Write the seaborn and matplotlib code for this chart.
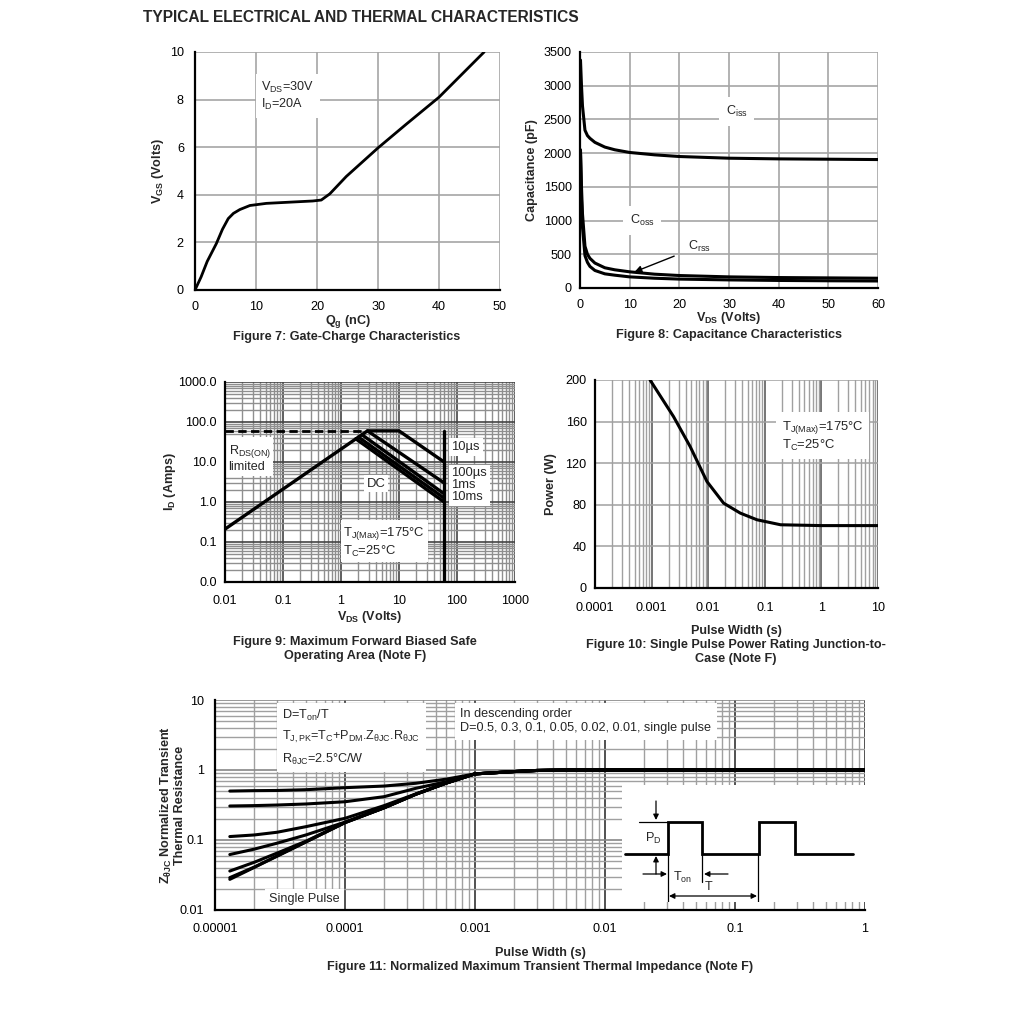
import numpy as np
import pandas as pd
import matplotlib
matplotlib.use("Agg")
import matplotlib.pyplot as plt
import matplotlib.ticker as mticker
import seaborn as sns

# ---------------- data ----------------
# Figure 7: gate charge
qg = [0, 1, 2, 3.5, 4.5, 5.45, 6.3, 7.35, 9.0, 11.7, 15.5, 19.3, 20.7, 22.1, 24.8, 30.0, 34.6, 40.0, 47.4]
vgs = [0, 0.55, 1.2, 1.95, 2.55, 3.0, 3.22, 3.38, 3.55, 3.64, 3.69, 3.74, 3.78, 4.04, 4.77, 5.97, 6.96, 8.1, 10.0]

# Figure 8: capacitance
vds_c = [0.1, 0.3, 0.5, 1, 1.5, 2, 3, 5, 7, 10, 15, 20, 30, 40, 50, 60]
ciss = [3380, 3000, 2700, 2340, 2260, 2220, 2160, 2090, 2050, 2010, 1975, 1950, 1925, 1915, 1910, 1905]
coss = [2050, 1500, 1100, 620, 500, 440, 370, 300, 270, 240, 205, 185, 165, 155, 150, 145]
crss = [2000, 1300, 900, 480, 380, 320, 260, 210, 190, 165, 145, 132, 120, 112, 107, 104]

# Figure 9: safe operating area
soa_rds_v = [0.01, 2.86]
soa_rds_i = [0.21, 60]
soa_10us_v = [0.01, 2.86, 10, 60]
soa_10us_i = [0.21, 60, 60, 10]
soa_100us_v = [2.86, 60]
soa_100us_i = [60, 3.0]
soa_1ms_v = [2.3, 60]
soa_1ms_i = [48, 1.6]
soa_10ms_v = [2.0, 60]
soa_10ms_i = [42, 1.25]
soa_dc_v = [1.8, 60]
soa_dc_i = [38, 1.0]
soa_vmax_v = [60, 60]
soa_vmax_i = [60, 0.01]

# Figure 10: single pulse power
tp = [0.00094, 0.00244, 0.0048, 0.0095, 0.0187, 0.0369, 0.0728, 0.19, 1, 10]
pw = [200, 164.8, 136, 102.4, 81.6, 72, 65.6, 60.8, 60, 60]

# Figure 11: transient thermal impedance
tz = [1.3e-5, 2e-5, 3e-5, 5e-5, 1e-4, 2e-4, 3.5e-4, 6e-4, 1e-3, 2e-3, 3e-3, 5e-3, 1e-2, 1e-1, 1]
z_d05 = [0.50, 0.507, 0.51, 0.523, 0.559, 0.59, 0.646, 0.74, 0.88, 0.95, 0.985, 1.0, 1.0, 1.0, 1.0]
z_d03 = [0.306, 0.31, 0.316, 0.327, 0.352, 0.416, 0.547, 0.68, 0.88, 0.95, 0.985, 1.0, 1.0, 1.0, 1.0]
z_d01 = [0.112, 0.118, 0.129, 0.155, 0.204, 0.31, 0.455, 0.65, 0.88, 0.95, 0.985, 1.0, 1.0, 1.0, 1.0]
z_d005 = [0.062, 0.074, 0.09, 0.118, 0.18, 0.29, 0.45, 0.65, 0.88, 0.95, 0.985, 1.0, 1.0, 1.0, 1.0]
z_d002 = [0.036, 0.048, 0.065, 0.096, 0.178, 0.289, 0.45, 0.65, 0.88, 0.95, 0.985, 1.0, 1.0, 1.0, 1.0]
z_d001 = [0.029, 0.041, 0.059, 0.094, 0.177, 0.288, 0.45, 0.65, 0.88, 0.95, 0.985, 1.0, 1.0, 1.0, 1.0]
z_sp = [0.0274, 0.0405, 0.0587, 0.0936, 0.177, 0.288, 0.45, 0.65, 0.88, 0.95, 0.985, 1.0, 1.0, 1.0, 1.0]

fig9_xticks = [0.01, 0.1, 1, 10, 100, 1000]
fig9_xlabels = ["0.01", "0.1", "1", "10", "100", "1000"]
fig9_yticks = [0.01, 0.1, 1, 10, 100, 1000]
fig9_ylabels = ["0.0", "0.1", "1.0", "10.0", "100.0", "1000.0"]
fig10_xticks = [1e-4, 1e-3, 1e-2, 1e-1, 1, 10]
fig10_xlabels = ["0.0001", "0.001", "0.01", "0.1", "1", "10"]
fig11_xticks = [1e-5, 1e-4, 1e-3, 1e-2, 1e-1, 1]
fig11_xlabels = ["0.00001", "0.0001", "0.001", "0.01", "0.1", "1"]
fig11_yticks = [0.01, 0.1, 1, 10]
fig11_ylabels = ["0.01", "0.1", "1", "10"]

# pulse schematic (inset drawing, in inset units)
pulse_x = [625, 668, 668, 702, 702, 759, 759, 795, 795, 853]
pulse_y = [854, 854, 822, 822, 854, 854, 822, 822, 854, 854]

# ---------------- style ----------------
sns.set_theme(style="white")
plt.rcParams["font.family"] = ["Liberation Sans", "DejaVu Sans"]
plt.rcParams["mathtext.fontset"] = "custom"
plt.rcParams["mathtext.rm"] = "Liberation Sans"
plt.rcParams["mathtext.it"] = "Liberation Sans"
plt.rcParams["mathtext.bf"] = "Liberation Sans:bold"
plt.rcParams["mathtext.default"] = "regular"

FS = 9.1
W, H = 1020, 1025
fig = plt.figure(figsize=(W / 100, H / 100), dpi=100)
fig.patch.set_facecolor("white")


def axes_px(x0, y0, x1, y1):
    return fig.add_axes([x0 / W, 1 - y1 / H, (x1 - x0) / W, (y1 - y0) / H])


def ftxt(x, y, s, **kw):
    fig.text(x / W, 1 - y / H, s, **kw)


def base(ax, xpad=7, ypad=6):
    for side in ["top", "right"]:
        ax.spines[side].set_visible(False)
    for side in ["left", "bottom"]:
        ax.spines[side].set_color("black")
        ax.spines[side].set_linewidth(1.6)
        ax.spines[side].set_zorder(5)
    ax.tick_params(which="both", length=0, labelsize=FS, colors="black")
    ax.tick_params(axis="x", pad=xpad)
    ax.tick_params(axis="y", pad=ypad)
    ax.set_facecolor("white")


def line(ax, x, y, lw=2.2, **kw):
    df = pd.DataFrame({"x": x, "y": y})
    sns.lineplot(data=df, x="x", y="y", ax=ax, color="black", linewidth=lw,
                 estimator=None, sort=False, legend=False, **kw)


box = dict(facecolor="white", edgecolor="none", pad=2)

# ---------------- Figure 7 ----------------
ax7 = axes_px(195, 52, 500, 290)
base(ax7, xpad=8, ypad=8)
line(ax7, qg, vgs, lw=2.0)
ax7.set_xlim(0, 50)
ax7.set_ylim(0, 10)
ax7.set_xticks(range(0, 51, 10))
ax7.set_yticks(range(0, 11, 2))
ax7.grid(True, color="#a6a6a6", linewidth=1.2)
ax7.set_axisbelow(True)
ax7.set_xlabel("Q$_{g}$ (nC)", fontsize=FS, fontweight="bold", labelpad=0)
ax7.set_ylabel("V$_{GS}$ (Volts)", fontsize=FS, fontweight="bold", labelpad=3)
ax7.text(10.9, 8.15, "V$_{DS}$=30V\nI$_{D}$=20A", fontsize=FS, va="center", ha="left",
         linespacing=1.2, bbox=dict(facecolor="white", edgecolor="none", pad=4))

# ---------------- Figure 8 ----------------
ax8 = axes_px(580, 52, 878, 288)
base(ax8, xpad=8, ypad=6)
line(ax8, vds_c, ciss, lw=2.2)
line(ax8, vds_c, coss, lw=2.2)
line(ax8, vds_c, crss, lw=2.2)
ax8.set_xlim(0, 60)
ax8.set_ylim(0, 3500)
ax8.set_xticks(range(0, 61, 10))
ax8.set_yticks(range(0, 3501, 500))
ax8.grid(True, color="#a6a6a6", linewidth=1.2)
ax8.set_axisbelow(True)
ax8.set_xlabel("V$_{DS}$ (Volts)", fontsize=FS, fontweight="bold", labelpad=-1)
ax8.set_ylabel("Capacitance (pF)", fontsize=FS, fontweight="bold", labelpad=4)
ax8.text(31.5, 2620, "C$_{iss}$", fontsize=FS, ha="center", va="center",
         bbox=dict(facecolor="white", edgecolor="none", pad=5))
ax8.text(12.5, 1000, "C$_{oss}$", fontsize=FS, ha="center", va="center",
         bbox=dict(facecolor="white", edgecolor="none", pad=5))
ax8.annotate("C$_{rss}$", xy=(11, 240), xytext=(24, 620), fontsize=FS, ha="center", va="center",
             arrowprops=dict(arrowstyle="-|>", color="black", lw=1.0, shrinkA=8, shrinkB=0,
                             mutation_scale=10))

# ---------------- Figure 9 ----------------
ax9 = axes_px(225, 382, 515, 582)
base(ax9, xpad=9, ypad=6)
ax9.set_xscale("log")
ax9.set_yscale("log")
for vx, iy in [(soa_10us_v, soa_10us_i), (soa_100us_v, soa_100us_i), (soa_1ms_v, soa_1ms_i),
               (soa_10ms_v, soa_10ms_i), (soa_dc_v, soa_dc_i), (soa_vmax_v, soa_vmax_i)]:
    line(ax9, vx, iy, lw=2.4)
line(ax9, [soa_10us_v[0], soa_rds_v[1]], [60, 60], lw=2.0, linestyle=(0, (3, 1.6)))
ax9.set_xlim(0.01, 1000)
ax9.set_ylim(0.01, 1000)
ax9.xaxis.set_major_locator(mticker.FixedLocator(fig9_xticks))
ax9.xaxis.set_major_formatter(mticker.FixedFormatter(fig9_xlabels))
ax9.yaxis.set_major_locator(mticker.FixedLocator(fig9_yticks))
ax9.yaxis.set_major_formatter(mticker.FixedFormatter(fig9_ylabels))
ax9.xaxis.set_minor_locator(mticker.LogLocator(base=10, subs=np.arange(2, 10)))
ax9.yaxis.set_minor_locator(mticker.LogLocator(base=10, subs=np.arange(2, 10)))
ax9.xaxis.set_minor_formatter(mticker.NullFormatter())
ax9.yaxis.set_minor_formatter(mticker.NullFormatter())
ax9.grid(True, which="minor", color="#8f8f8f", linewidth=1.0)
ax9.grid(True, which="major", color="#444444", linewidth=1.2)
ax9.set_axisbelow(True)
ax9.set_xlabel("V$_{DS}$ (Volts)", fontsize=FS, fontweight="bold", labelpad=2)
ax9.set_ylabel("I$_{D}$ (Amps)", fontsize=FS, fontweight="bold", labelpad=0)
ax9.text(0.0115, 12.5, "R$_{DS(ON)}$\nlimited", fontsize=FS, ha="left", va="center", linespacing=1.1,
         bbox=box)
ax9.text(80, 24, "10µs", fontsize=FS + 0.3, ha="left", va="center", bbox=box)
ax9.text(80, 2.6, "100µs\n1ms\n10ms", fontsize=FS + 0.3, ha="left", va="center",
         linespacing=1.0, bbox=box)
ax9.text(4.0, 2.9, "DC", fontsize=FS + 0.3, ha="center", va="center", bbox=box)
ax9.text(1.1, 0.1, "T$_{J(Max)}$=175°C\nT$_{C}$=25°C", fontsize=FS + 0.3, ha="left",
         va="center", linespacing=1.15, bbox=box)

# ---------------- Figure 10 ----------------
ax10 = axes_px(595, 380, 878, 588)
base(ax10, xpad=10, ypad=6)
ax10.set_xscale("log")
line(ax10, tp, pw, lw=2.2)
ax10.set_xlim(1e-4, 10)
ax10.set_ylim(0, 200)
ax10.xaxis.set_major_locator(mticker.FixedLocator(fig10_xticks))
ax10.xaxis.set_major_formatter(mticker.FixedFormatter(fig10_xlabels))
ax10.xaxis.set_minor_locator(mticker.LogLocator(base=10, subs=np.arange(2, 10)))
ax10.xaxis.set_minor_formatter(mticker.NullFormatter())
ax10.set_yticks(range(0, 201, 40))
ax10.grid(True, which="minor", axis="x", color="#a0a0a0", linewidth=1.0)
ax10.grid(True, which="major", axis="x", color="#505050", linewidth=1.1)
ax10.grid(True, which="major", axis="y", color="#a0a0a0", linewidth=1.1)
ax10.set_axisbelow(True)
ax10.set_xlabel("Pulse Width (s)", fontsize=FS, fontweight="bold", labelpad=8)
ax10.set_ylabel("Power (W)", fontsize=FS, fontweight="bold", labelpad=6)
ax10.text(0.2, 146, "T$_{J(Max)}$=175°C\nT$_{C}$=25°C", fontsize=FS + 0.3, ha="left",
          va="center", linespacing=1.15, bbox=dict(facecolor="white", edgecolor="none", pad=4))

# ---------------- Figure 11 ----------------
ax11 = axes_px(215, 700, 865, 910)
base(ax11, xpad=9, ypad=8)
ax11.set_xscale("log")
ax11.set_yscale("log")
for zz in [z_d05, z_d03, z_d01, z_d005, z_d002, z_d001, z_sp]:
    line(ax11, tz, zz, lw=2.2)
ax11.set_xlim(1e-5, 1)
ax11.set_ylim(0.01, 10)
ax11.xaxis.set_major_locator(mticker.FixedLocator(fig11_xticks))
ax11.xaxis.set_major_formatter(mticker.FixedFormatter(fig11_xlabels))
ax11.yaxis.set_major_locator(mticker.FixedLocator(fig11_yticks))
ax11.yaxis.set_major_formatter(mticker.FixedFormatter(fig11_ylabels))
ax11.xaxis.set_minor_locator(mticker.LogLocator(base=10, subs=np.arange(2, 10)))
ax11.yaxis.set_minor_locator(mticker.LogLocator(base=10, subs=np.arange(2, 10)))
ax11.xaxis.set_minor_formatter(mticker.NullFormatter())
ax11.yaxis.set_minor_formatter(mticker.NullFormatter())
ax11.grid(True, which="minor", color="#a0a0a0", linewidth=1.0)
ax11.grid(True, which="major", axis="x", color="#222222", linewidth=1.1)
ax11.grid(True, which="major", axis="y", color="#888888", linewidth=1.2)
ax11.set_axisbelow(True)
ax11.set_xlabel("Pulse Width (s)", fontsize=FS, fontweight="bold", labelpad=9)
ax11.set_ylabel("Z$_{\\theta JC}$ Normalized Transient\nThermal Resistance", fontsize=FS,
                fontweight="bold", labelpad=-5, linespacing=1.0)
ax11.text(3.3e-5, 7.6, "D=T$_{on}$/T\nT$_{J,PK}$=T$_{C}$+P$_{DM}$.Z$_{\\theta JC}$.R$_{\\theta JC}$\nR$_{\\theta JC}$=2.5°C/W",
          fontsize=FS, ha="left", va="top", linespacing=1.55,
          bbox=dict(facecolor="white", edgecolor="none", pad=4))
ax11.text(7.7e-4, 7.6, "In descending order\nD=0.5, 0.3, 0.1, 0.05, 0.02, 0.01, single pulse",
          fontsize=FS, ha="left", va="top", linespacing=1.2,
          bbox=dict(facecolor="white", edgecolor="none", pad=4))
ax11.text(2.6e-5, 0.0145, "Single Pulse", fontsize=FS, ha="left", va="center",
          bbox=dict(facecolor="white", edgecolor="none", pad=3))

# inset pulse schematic
axi = axes_px(622, 785, 865, 902)
axi.set_xlim(622, 865)
axi.set_ylim(902, 785)
axi.set_facecolor("white")
axi.axis("off")
axi.add_patch(plt.Rectangle((622, 785), 243, 117, facecolor="white", edgecolor="none", zorder=0))
axi.plot(pulse_x, pulse_y, color="black", lw=2.0, solid_joinstyle="miter")
thin = dict(color="black", lw=0.9)
axi.plot([639, 668], [822, 822], **thin)
axi.plot([668, 668], [854, 904], **thin)
axi.plot([702, 702], [854, 882], **thin)
axi.plot([758, 758], [854, 904], **thin)
ar = dict(arrowstyle="-|>", color="black", lw=0.9, mutation_scale=8, shrinkA=0, shrinkB=0)
axi.annotate("", xy=(656, 820), xytext=(656, 801), arrowprops=ar)
axi.annotate("", xy=(656, 856), xytext=(656, 874), arrowprops=ar)
axi.annotate("", xy=(667, 874), xytext=(643, 874), arrowprops=ar)
axi.annotate("", xy=(704, 874), xytext=(728, 874), arrowprops=ar)
axi.annotate("", xy=(757, 896), xytext=(669, 896),
             arrowprops=dict(arrowstyle="<|-|>", color="black", lw=0.9, mutation_scale=8,
                             shrinkA=0, shrinkB=0))
axi.text(653, 838, "P$_{D}$", fontsize=FS, ha="center", va="center")
axi.text(683, 877, "T$_{on}$", fontsize=FS, ha="center", va="center")
axi.text(709, 887, "T", fontsize=FS, ha="center", va="center")

# ---------------- texts ----------------
axt = axes_px(138, 4, 579, 30)
axt.axis("off")
axt.set_xlim(0, 1)
axt.set_ylim(0, 1)
axt.text(5 / 441, 0.5, "TYPICAL ELECTRICAL AND THERMAL CHARACTERISTICS", fontsize=11.2,
         fontweight="bold", ha="left", va="center", clip_on=True)
ftxt(347, 337, "Figure 7: Gate-Charge Characteristics", fontsize=FS, fontweight="bold",
     ha="center", va="center")
ftxt(729, 335, "Figure 8: Capacitance Characteristics", fontsize=FS, fontweight="bold",
     ha="center", va="center")
ftxt(355, 649, "Figure 9: Maximum Forward Biased Safe\nOperating Area (Note F)", fontsize=FS,
     fontweight="bold", ha="center", va="center", linespacing=1.2)
ftxt(736, 652, "Figure 10: Single Pulse Power Rating Junction-to-\nCase (Note F)", fontsize=FS,
     fontweight="bold", ha="center", va="center", linespacing=1.2)
ftxt(540, 967, "Figure 11: Normalized Maximum Transient Thermal Impedance (Note F)",
     fontsize=FS, fontweight="bold", ha="center", va="center")

fig.savefig("out.png", dpi=100, facecolor="white")
